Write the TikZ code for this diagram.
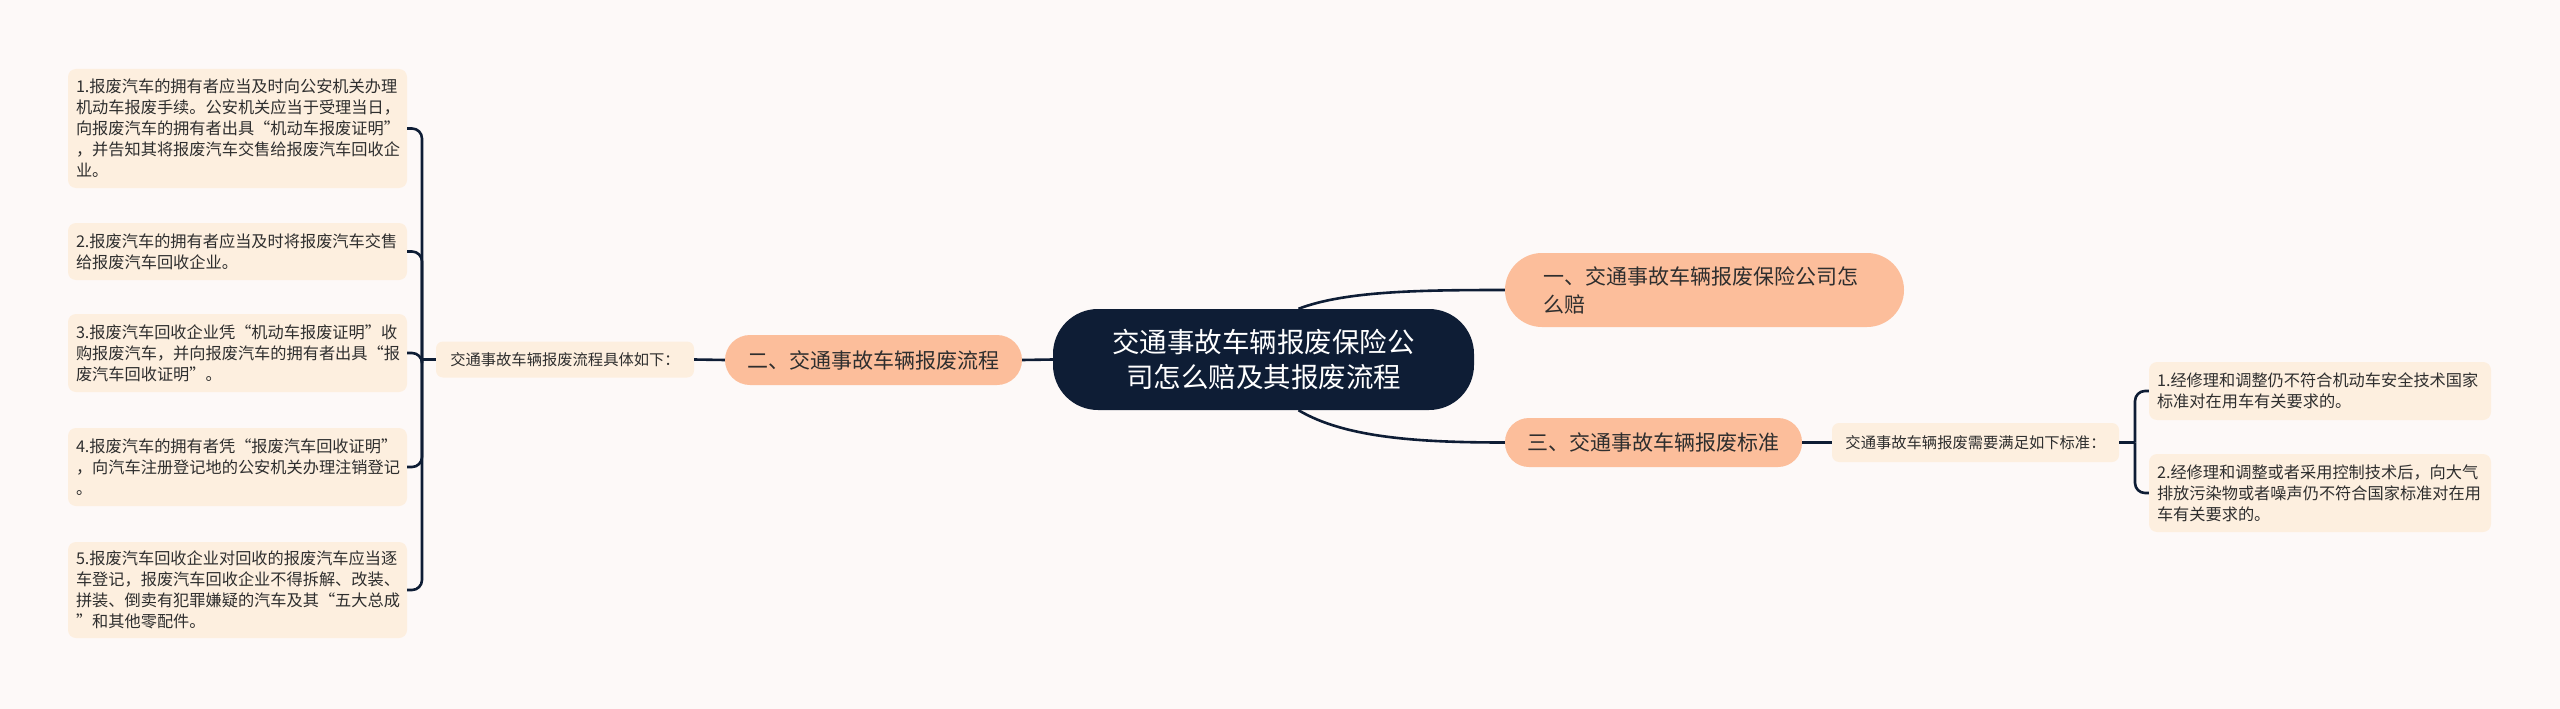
\documentclass[tikz,border=0pt]{standalone}
\usepackage{fontspec}
\setmainfont{Noto Sans CJK SC}
\definecolor{bg}{HTML}{FDF9F8}
\definecolor{leaf}{HTML}{FDEFDF}
\definecolor{org}{HTML}{FCBE9B}
\definecolor{navy}{HTML}{0E1D35}
\definecolor{txt}{HTML}{2E2E2E}
\begin{document}
\begin{tikzpicture}[x=1pt,y=-1pt,
  conn/.style={draw=navy,line width=2.6pt},
  leafbox/.style={fill=leaf,rounded corners=8pt,text=txt,font=\fontsize{16.2}{21}\selectfont,
    align=left,text width=323pt,inner xsep=8pt,inner ysep=0pt,minimum width=339pt},
  midbox/.style={fill=leaf,rounded corners=7pt,text=txt,font=\fontsize{15.3}{21}\selectfont,
    align=center,inner xsep=6pt,inner ysep=0pt},
  topicbox/.style={fill=org,text=txt,font=\fontsize{21}{28}\selectfont,inner ysep=0pt},
  mainbox/.style={fill=navy,text=white,font=\fontsize{27.5}{35}\selectfont,align=center,
    rounded corners=45pt,minimum width=421pt,minimum height=101pt,inner ysep=0pt}]
\path[fill=bg] (0,0) rectangle (2560,709);

\node[mainbox] (c) at (1263.5,359.5) {交通事故车辆报废保险公\\司怎么赔及其报废流程};

\node[topicbox,rounded corners=37pt,minimum width=399pt,minimum height=74pt,
  text width=323pt,align=left,inner xsep=38pt] (n1) at (1704.5,290)
  {一、交通事故车辆报废保险公司怎\\么赔};
\node[topicbox,rounded corners=25pt,minimum width=297pt,minimum height=50pt] (n2) at (873.5,360)
  {二、交通事故车辆报废流程};
\node[topicbox,rounded corners=24pt,minimum width=297pt,minimum height=49pt] (n3) at (1653.5,442.5)
  {三、交通事故车辆报废标准};

\node[midbox,minimum width=258pt,minimum height=36pt] (s2) at (565,359.5)
  {交通事故车辆报废流程具体如下：};
\node[midbox,minimum width=287pt,minimum height=39pt] (s3) at (1975.5,442.5)
  {交通事故车辆报废需要满足如下标准：};

\node[leafbox,minimum height=119pt] (l1) at (237.5,128.5)
  {1.报废汽车的拥有者应当及时向公安机关办理\\机动车报废手续。公安机关应当于受理当日，\\向报废汽车的拥有者出具“机动车报废证明”\\，并告知其将报废汽车交售给报废汽车回收企\\业。};
\node[leafbox,minimum height=57pt] (l2) at (237.5,251.5)
  {2.报废汽车的拥有者应当及时将报废汽车交售\\给报废汽车回收企业。};
\node[leafbox,minimum height=78pt] (l3) at (237.5,353)
  {3.报废汽车回收企业凭“机动车报废证明”收\\购报废汽车，并向报废汽车的拥有者出具“报\\废汽车回收证明”。};
\node[leafbox,minimum height=78pt] (l4) at (237.5,467)
  {4.报废汽车的拥有者凭“报废汽车回收证明”\\，向汽车注册登记地的公安机关办理注销登记\\。};
\node[leafbox,minimum height=96pt] (l5) at (237.5,590)
  {5.报废汽车回收企业对回收的报废汽车应当逐\\车登记，报废汽车回收企业不得拆解、改装、\\拼装、倒卖有犯罪嫌疑的汽车及其“五大总成\\”和其他零配件。};

\node[leafbox,text width=326pt,minimum width=342pt,minimum height=58pt] (r1) at (2320,391)
  {1.经修理和调整仍不符合机动车安全技术国家\\标准对在用车有关要求的。};
\node[leafbox,text width=326pt,minimum width=342pt,minimum height=78pt] (r2) at (2320,493)
  {2.经修理和调整或者采用控制技术后，向大气\\排放污染物或者噪声仍不符合国家标准对在用\\车有关要求的。};

% connectors
\coordinate (ct) at ([xshift=35pt]c.north);
\coordinate (cb) at ([xshift=35pt]c.south);
\draw[conn] (ct) .. controls (1345,291) and (1420,290) .. (n1.west);
\draw[conn] (cb) .. controls (1345,438) and (1420,442.5) .. (n3.west);
\draw[conn] (c.west) -- (n2.east);
\draw[conn] (n2.west) -- (s2.east);
\draw[conn] (n3.east) -- (s3.west);

\coordinate (jl) at (422,359.5);
\draw[conn] (s2.west) -- (jl);
\foreach \k in {l1,l2,l3,l4,l5}{
  \draw[conn,rounded corners=10pt] (jl) |- (\k.east);
}
\coordinate (jr) at (2135,442.5);
\draw[conn] (s3.east) -- (jr);
\foreach \k in {r1,r2}{
  \draw[conn,rounded corners=10pt] (jr) |- (\k.west);
}
\end{tikzpicture}
\end{document}
